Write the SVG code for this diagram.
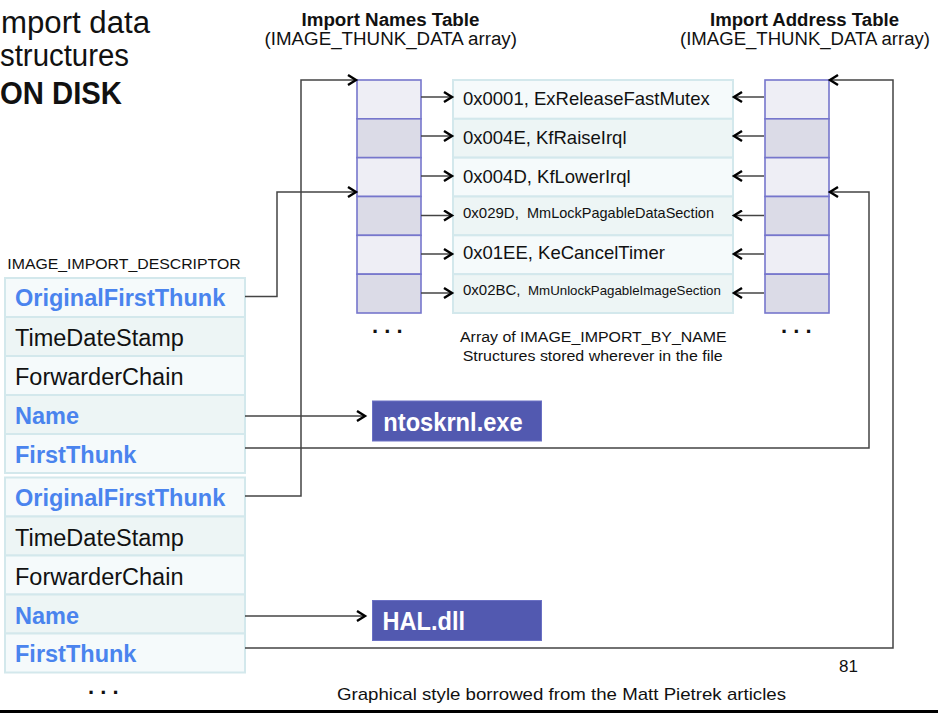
<svg xmlns="http://www.w3.org/2000/svg" width="938" height="713" viewBox="0 0 938 713">
<style>
text{font-family:"Liberation Sans",Arial,Helvetica,sans-serif;fill:#111}
.title{font-size:31px}
.b{font-weight:bold}
.hdr{font-size:18px}
.fld{font-size:23.5px}
.key{fill:#4a84ee;font-weight:bold}
.c1{fill:#f5fafb;stroke:#d3e8ec;stroke-width:2}
.c2{fill:#edf5f5;stroke:#d3e8ec;stroke-width:2}
.t1{fill:#eeeef5;stroke:#7676cc;stroke-width:1.6}
.t2{fill:#dbdbe7;stroke:#7676cc;stroke-width:1.6}
.nm{font-size:18.5px}
.dll{fill:#5259b0;stroke:#6a70c4;stroke-width:1}
.dlltext{fill:#fff;font-weight:bold;font-size:25px}
.wire{fill:none;stroke:#444;stroke-width:1.5}
.dots{font-size:22px;font-weight:bold}
.small{font-size:15.5px}
</style>
<defs>
<marker id="chev" markerUnits="userSpaceOnUse" markerWidth="12" markerHeight="12" refX="9" refY="6" orient="auto" viewBox="0 0 12 12">
<path d="M1,1 L9,6 L1,11" fill="none" stroke="#000" stroke-width="2.4"/>
</marker>
</defs>

<rect width="938" height="713" fill="#fff"/>

<!-- slide title -->
<g id="title">
<text class="title" x="1" y="33" textLength="149" lengthAdjust="spacingAndGlyphs">mport data</text>
<text class="title" x="0" y="66" textLength="129" lengthAdjust="spacingAndGlyphs">structures</text>
<text class="title b" x="0" y="104" textLength="122" lengthAdjust="spacingAndGlyphs">ON DISK</text>
</g>

<!-- column headings -->
<g id="int-heading">
<text class="hdr b" x="301.5" y="26" textLength="178" lengthAdjust="spacingAndGlyphs">Import Names Table</text>
<text class="hdr" x="264.5" y="45" textLength="252.5" lengthAdjust="spacingAndGlyphs">(IMAGE_THUNK_DATA array)</text>
</g>
<g id="iat-heading">
<text class="hdr b" x="710" y="26" textLength="189" lengthAdjust="spacingAndGlyphs">Import Address Table</text>
<text class="hdr" x="680" y="45" textLength="250" lengthAdjust="spacingAndGlyphs">(IMAGE_THUNK_DATA array)</text>
</g>

<!-- Import Names Table thunks -->
<g id="int">
<rect class="t1" x="357" y="80" width="64" height="38.83"/>
<rect class="t2" x="357" y="118.83" width="64" height="38.83"/>
<rect class="t1" x="357" y="157.67" width="64" height="38.83"/>
<rect class="t2" x="357" y="196.5" width="64" height="38.83"/>
<rect class="t1" x="357" y="235.33" width="64" height="38.83"/>
<rect class="t2" x="357" y="274.17" width="64" height="38.83"/>
<text class="dots" x="372" y="333">. . .</text>
</g>

<!-- Import Address Table thunks -->
<g id="iat">
<rect class="t1" x="765" y="80" width="64" height="38.83"/>
<rect class="t2" x="765" y="118.83" width="64" height="38.83"/>
<rect class="t1" x="765" y="157.67" width="64" height="38.83"/>
<rect class="t2" x="765" y="196.5" width="64" height="38.83"/>
<rect class="t1" x="765" y="235.33" width="64" height="38.83"/>
<rect class="t2" x="765" y="274.17" width="64" height="38.83"/>
<text class="dots" x="781" y="333">. . .</text>
</g>

<!-- IMAGE_IMPORT_BY_NAME entries -->
<g id="by-name">
<rect class="c1" x="453" y="80" width="280" height="38.83"/>
<rect class="c2" x="453" y="118.83" width="280" height="38.83"/>
<rect class="c1" x="453" y="157.67" width="280" height="38.83"/>
<rect class="c2" x="453" y="196.5" width="280" height="38.83"/>
<rect class="c1" x="453" y="235.33" width="280" height="38.83"/>
<rect class="c2" x="453" y="274.17" width="280" height="38.83"/>
<text class="nm" x="463" y="104.5">0x0001, ExReleaseFastMutex</text>
<text class="nm" x="463" y="143.5">0x004E, KfRaiseIrql</text>
<text class="nm" x="463" y="182.5">0x004D, KfLowerIrql</text>
<text x="463" y="217.5"><tspan font-size="15">0x029D,</tspan><tspan x="527" font-size="14.5">MmLockPagableDataSection</tspan></text>
<text class="nm" x="463" y="259">0x01EE, KeCancelTimer</text>
<text x="463" y="295"><tspan font-size="15">0x02BC,</tspan><tspan x="528" font-size="13.3">MmUnlockPagableImageSection</tspan></text>
<text class="small" x="460" y="341.7" textLength="266.7" lengthAdjust="spacingAndGlyphs">Array of IMAGE_IMPORT_BY_NAME</text>
<text class="small" x="462.7" y="360.7" textLength="260" lengthAdjust="spacingAndGlyphs">Structures stored wherever in the file</text>
</g>

<!-- first IMAGE_IMPORT_DESCRIPTOR -->
<g id="descriptor-1">
<text x="7.3" y="269.3" font-size="15" textLength="233.4" lengthAdjust="spacingAndGlyphs">IMAGE_IMPORT_DESCRIPTOR</text>
<rect class="c1" x="5" y="278" width="240" height="39"/>
<rect class="c2" x="5" y="317" width="240" height="39"/>
<rect class="c1" x="5" y="356" width="240" height="39"/>
<rect class="c2" x="5" y="395" width="240" height="39"/>
<rect class="c1" x="5" y="434" width="240" height="39"/>
<text class="fld key" x="15" y="306">OriginalFirstThunk</text>
<text class="fld" x="15" y="346">TimeDateStamp</text>
<text class="fld" x="15" y="385">ForwarderChain</text>
<text class="fld key" x="15" y="424">Name</text>
<text class="fld key" x="15" y="462.5">FirstThunk</text>
</g>

<!-- second IMAGE_IMPORT_DESCRIPTOR -->
<g id="descriptor-2">
<rect class="c1" x="5" y="477.5" width="240" height="39"/>
<rect class="c2" x="5" y="516.5" width="240" height="39"/>
<rect class="c1" x="5" y="555.5" width="240" height="39"/>
<rect class="c2" x="5" y="594.5" width="240" height="39"/>
<rect class="c1" x="5" y="633.5" width="240" height="39"/>
<text class="fld key" x="15" y="506">OriginalFirstThunk</text>
<text class="fld" x="15" y="545.5">TimeDateStamp</text>
<text class="fld" x="15" y="584.5">ForwarderChain</text>
<text class="fld key" x="15" y="623.5">Name</text>
<text class="fld key" x="15" y="662">FirstThunk</text>
<text class="dots" x="88" y="694">. . .</text>
</g>

<!-- DLL name strings -->
<g id="ntoskrnl">
<rect class="dll" x="372.5" y="401" width="169" height="40"/>
<text class="dlltext" x="383.3" y="430.7" textLength="139.4" lengthAdjust="spacingAndGlyphs">ntoskrnl.exe</text>
</g>
<g id="hal">
<rect class="dll" x="372.5" y="600.5" width="169" height="40"/>
<text class="dlltext" x="382.5" y="630" textLength="82.5" lengthAdjust="spacingAndGlyphs">HAL.dll</text>
</g>

<!-- pointers -->
<g id="connectors">
<path class="wire" d="M245,296.5 H277 V192 H356" marker-end="url(#chev)"/>
<path class="wire" d="M245,496 H301 V80 H356" marker-end="url(#chev)"/>
<path class="wire" d="M245,416 H365" marker-end="url(#chev)"/>
<path class="wire" d="M245,448 H869 V192 H830" marker-end="url(#chev)"/>
<path class="wire" d="M245,616 H365" marker-end="url(#chev)"/>
<path class="wire" d="M245,648 H893 V80 H830" marker-end="url(#chev)"/>
<path class="wire" d="M421,97 H452" marker-end="url(#chev)"/>
<path class="wire" d="M421,136 H452" marker-end="url(#chev)"/>
<path class="wire" d="M421,176 H452" marker-end="url(#chev)"/>
<path class="wire" d="M421,215.5 H452" marker-end="url(#chev)"/>
<path class="wire" d="M421,254 H452" marker-end="url(#chev)"/>
<path class="wire" d="M421,293 H452" marker-end="url(#chev)"/>
<path class="wire" d="M764,97 H734" marker-end="url(#chev)"/>
<path class="wire" d="M764,136 H734" marker-end="url(#chev)"/>
<path class="wire" d="M764,176 H734" marker-end="url(#chev)"/>
<path class="wire" d="M764,215.5 H734" marker-end="url(#chev)"/>
<path class="wire" d="M764,254 H734" marker-end="url(#chev)"/>
<path class="wire" d="M764,293 H734" marker-end="url(#chev)"/>
</g>

<!-- footer -->
<g id="footer">
<text x="839" y="672" font-size="17">81</text>
<text x="337" y="700" font-size="17" textLength="449" lengthAdjust="spacingAndGlyphs">Graphical style borrowed from the Matt Pietrek articles</text>
<rect x="0" y="710" width="938" height="3" fill="#000"/>
</g>
</svg>
